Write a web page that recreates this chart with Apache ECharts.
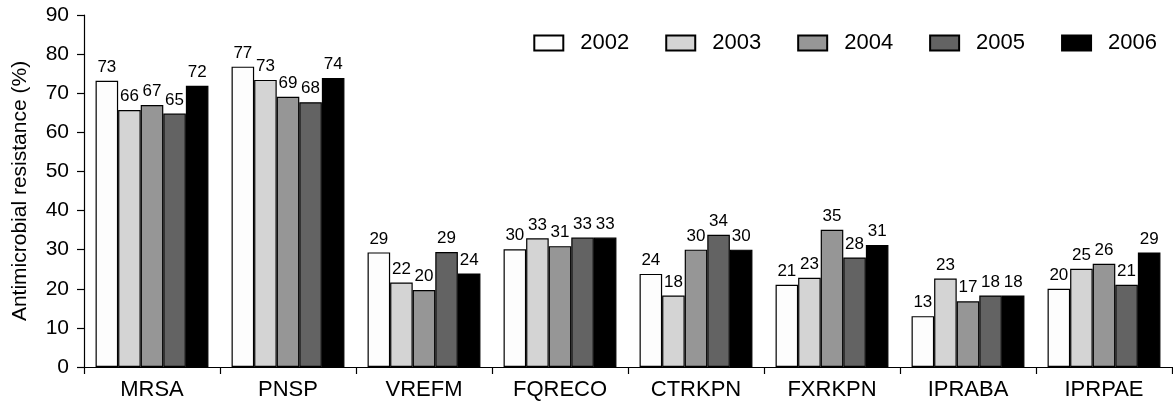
<!DOCTYPE html>
<html>
<head>
<meta charset="utf-8">
<script src="https://cdn.jsdelivr.net/npm/echarts@6/dist/echarts.min.js"></script>
<style>
html,body{margin:0;padding:0;background:#fff;}
#chart{width:1173px;height:403px;}
</style>
</head>
<body>
<div id="chart"></div>
<script>
const categories = ['MRSA','PNSP','VREFM','FQRECO','CTRKPN','FXRKPN','IPRABA','IPRPAE'];
const years = ['2002','2003','2004','2005','2006'];
const v2002 = [73.2, 76.8, 29.3, 30.1, 23.8, 21.0, 13.0, 20.0];
const v2003 = [65.7, 73.4, 21.6, 32.9, 18.3, 22.8, 22.6, 25.1];
const v2004 = [67.0, 69.1, 19.7, 30.9, 30.0, 35.1, 16.8, 26.4];
const v2005 = [64.8, 67.7, 29.4, 33.1, 33.8, 28.0, 18.3, 21.0];
const v2006 = [71.9, 73.9, 23.9, 33.1, 30.0, 31.2, 18.3, 29.3];
const yTicks = [0,10,20,30,40,50,60,70,80,90];

const colors = ['#fdfdfd','#d4d4d4','#969696','#636363','#000000'];
const seriesData = [v2002, v2003, v2004, v2005, v2006];
const font = "'Liberation Sans', Arial, sans-serif";

const chart = echarts.init(document.getElementById('chart'), null, {renderer:'canvas'});
chart.setOption({
  animation:false,
  backgroundColor:'#ffffff',
  textStyle:{fontFamily:font},
  legend:{
    right:11, top:27,
    itemWidth:29, itemHeight:15, itemGap:36,
    icon:'rect',
    textStyle:{fontSize:22, color:'#000', fontFamily:font, padding:[0,0,0,12]},
    data:years
  },
  grid:{left:84, right:1, top:15, bottom:36, containLabel:false},
  xAxis:{
    type:'category',
    data:categories,
    axisLine:{lineStyle:{color:'#000', width:1.2}},
    axisTick:{show:true, length:7, lineStyle:{color:'#000', width:1.2}},
    axisLabel:{fontSize:22, color:'#000', margin:12, fontFamily:font}
  },
  yAxis:{
    type:'value',
    min:yTicks[0], max:yTicks[yTicks.length-1], interval:10,
    name:'Antimicrobial resistance (%)',
    nameLocation:'middle', nameGap:53,
    nameTextStyle:{fontSize:21, color:'#000', fontFamily:font},
    axisLine:{show:true, lineStyle:{color:'#000', width:1.2}},
    axisTick:{show:true, length:7, lineStyle:{color:'#000', width:1.2}},
    axisLabel:{fontSize:21, color:'#000', margin:15, fontFamily:font},
    splitLine:{show:false}
  },
  series: years.map((y,i)=>({
    name:y,
    type:'bar',
    data:seriesData[i],
    barGap:'0%',
    barCategoryGap:'17%',
    itemStyle:{color:colors[i], borderColor:'#000', borderWidth:1.2},
    label:{show:true, position:'top', distance:5, fontSize:17, color:'#000', fontFamily:font,
      formatter:p=>Math.round(p.value)}
  }))
});
</script>
</body>
</html>
